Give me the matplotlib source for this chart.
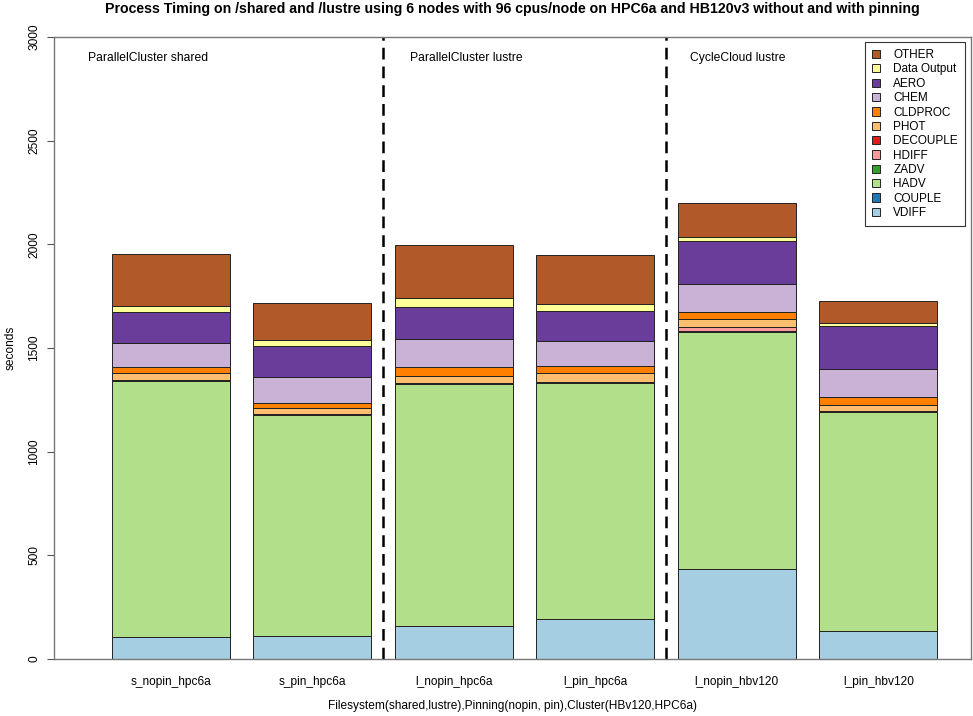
import numpy as np
import matplotlib
matplotlib.use('Agg')
import matplotlib.pyplot as plt

plt.rcParams['font.family'] = ['Liberation Sans', 'DejaVu Sans']

#%%
# data (seconds)
runs = ['s_nopin_hpc6a', 's_pin_hpc6a', 'l_nopin_hpc6a', 'l_pin_hpc6a', 'l_nopin_hbv120', 'l_pin_hbv120']

processes = ['VDIFF', 'COUPLE', 'HADV', 'ZADV', 'HDIFF', 'DECOUPLE',
             'PHOT', 'CLDPROC', 'CHEM', 'AERO', 'Data Output', 'OTHER']

vdiff    = [104, 109, 158, 191, 433, 135]
couple   = [1, 1, 1, 1, 1, 1]
hadv     = [1237, 1065, 1167, 1137, 1144, 1054]
zadv     = [2, 2, 2, 2, 2, 2]
hdiff    = [3, 3, 3, 3, 21, 4]
decouple = [0, 0, 0, 0, 0, 0]
phot     = [31, 29, 32, 44, 37, 29]
cldproc  = [30, 27, 44, 37, 35, 39]
chem     = [118, 126, 135, 117, 134, 135]
aero     = [149, 148, 156, 148, 211, 206]
data_out = [29, 29, 45, 34, 19, 17]
other    = [250, 176, 254, 234, 161, 105]

# RColorBrewer "Paired"
colors = ['#A6CEE3', '#1F78B4', '#B2DF8A', '#33A02C', '#FB9A99', '#E31A1C',
          '#FDBF6F', '#FF7F00', '#CAB2D6', '#6A3D9A', '#FFFF99', '#B15928']

groups = ['ParallelCluster shared', 'ParallelCluster lustre', 'CycleCloud lustre']

#%%
values = [vdiff, couple, hadv, zadv, hdiff, decouple, phot, cldproc, chem, aero, data_out, other]

fig = plt.figure(figsize=(9.73, 7.16), dpi=100)
ax = fig.add_axes([54/973, (716-659)/716, (971-54)/973, (659-37)/716])

# R barplot positions: width 1, space 0.2
x = 0.7 + 1.2*np.arange(len(runs))
bottom = np.zeros(len(runs))
handles = []
for name, vals, col in zip(processes, values, colors):
    b = ax.bar(x, vals, width=1.0, bottom=bottom, color=col, edgecolor='#222222',
               linewidth=0.7, label=name)
    handles.append(b)
    bottom += np.array(vals)

ax.set_xlim(-0.29, 7.486)
ax.set_ylim(0, 3000)

# dividers between filesystems / clusters
for xv in [2.5, 4.9]:
    ax.axvline(xv, color='black', linestyle=(0, (4.7, 2.8)), linewidth=1.8)

for xt, g in zip([0.0, 2.728, 5.10], groups):
    ax.text(xt, 2900, g, fontsize=8.7, ha='left', va='center')

ax.set_xticks(x)
ax.set_xticklabels(runs, fontsize=8.6)
ax.tick_params(axis='x', length=0, pad=12)
ax.set_yticks(np.arange(0, 3001, 500))
ax.set_yticklabels([str(v) for v in range(0, 3001, 500)], rotation=90, va='center', fontsize=8.6)
ax.tick_params(axis='y', length=5, width=0.8, color='#555555', pad=5)
for s in ax.spines.values():
    s.set_color('#777777')
    s.set_linewidth(1.0)

ax.set_xlabel('Filesystem(shared,lustre),Pinning(nopin, pin),Cluster(HBv120,HPC6a)', fontsize=8.6, labelpad=9)
ax.set_ylabel('seconds', fontsize=8.6, labelpad=8)
ax.set_title('Process Timing on /shared and /lustre using 6 nodes with 96 cpus/node on HPC6a and HB120v3 without and with pinning',
             fontsize=10.2, fontweight='bold', pad=17)

leg = ax.legend(handles[::-1], processes[::-1], loc='upper right', fontsize=8.5,
                frameon=True, fancybox=False, edgecolor='black', borderpad=0.6,
                handlelength=0.7, handleheight=0.7, handletextpad=1.1,
                labelspacing=0.2, borderaxespad=0,
                bbox_to_anchor=((965-54)/917, (659-42)/622))
leg.get_frame().set_linewidth(0.8)

fig.savefig('out.png', dpi=100)
